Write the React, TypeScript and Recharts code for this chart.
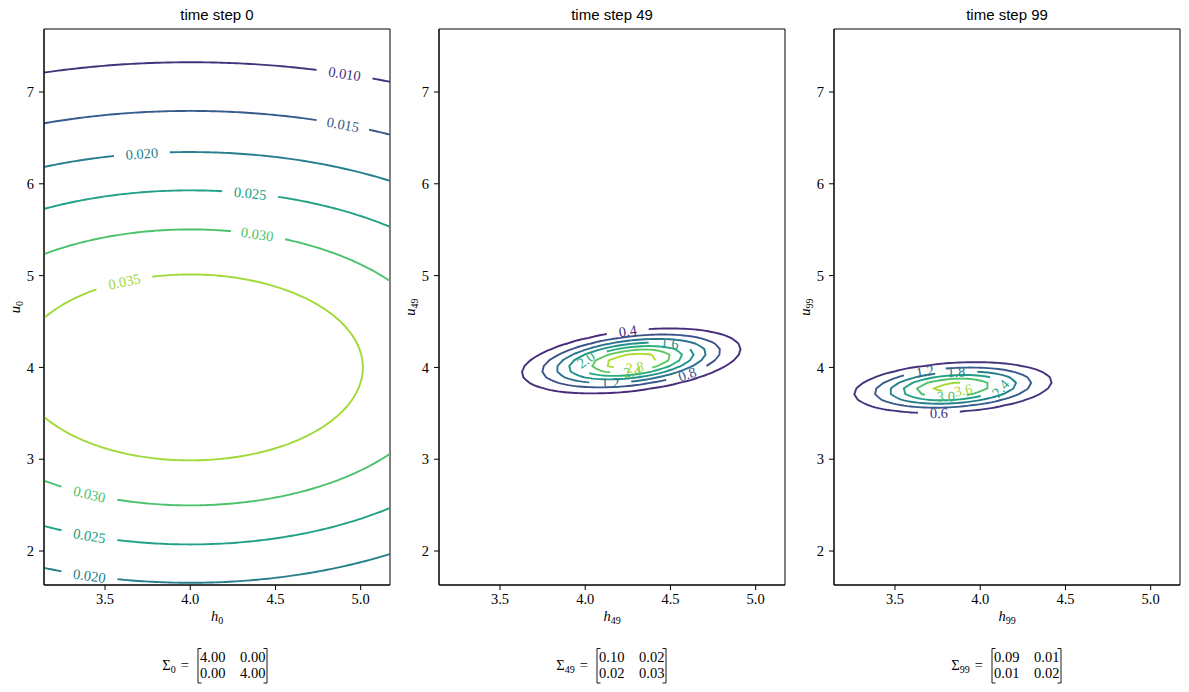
import { LineChart, Line, XAxis, YAxis, ReferenceDot, ReferenceArea } from 'recharts';

const X_DOMAIN: [number, number] = [3.142, 5.172];
const Y_DOMAIN: [number, number] = [1.63, 7.686];
const X_TICKS = [3.5, 4.0, 4.5, 5.0];
const Y_TICKS = [2, 3, 4, 5, 6, 7];

const STEPS = [0, 49, 99];
const MEANS = [
  [4.0, 4.0],
  [4.27, 4.07],
  [3.84, 3.78],
];
const COVS = [
  [[4.0, 0.0], [0.0, 4.0]],
  [[0.10, 0.02], [0.02, 0.03]],
  [[0.09, 0.01], [0.01, 0.02]],
];
const LEVELS = [
  [0.010, 0.015, 0.020, 0.025, 0.030, 0.035],
  [0.4, 0.8, 1.2, 1.6, 2.0, 2.4, 2.8],
  [0.6, 1.2, 1.8, 2.4, 3.0, 3.6],
];
// colour normalisation of each level set (outer levels have no contour)
const LEVEL_BOUNDS = [
  [0.005, 0.040],
  [0.0, 3.2],
  [0.0, 4.2],
];
const LEVEL_DECIMALS = [3, 1, 1];
// inline labels: [level, x, y] near where each one sits
const LABELS = [
  [
    [0.010, 4.90, 7.21], [0.015, 4.90, 6.64], [0.020, 3.715, 6.34], [0.025, 4.35, 5.91],
    [0.030, 4.39, 5.47], [0.035, 3.61, 4.95], [0.030, 3.41, 2.64], [0.025, 3.41, 2.18],
    [0.020, 3.41, 1.75],
  ],
  [
    [0.4, 4.244, 4.417], [0.8, 4.613, 3.873], [1.2, 4.15, 3.84], [1.6, 4.49, 4.254],
    [2.0, 3.99, 4.15], [2.4, 4.279, 3.96], [2.8, 4.279, 4.069],
  ],
  [
    [0.6, 3.756, 3.546], [1.2, 3.68, 3.96], [1.8, 3.868, 3.949], [2.4, 4.114, 3.774],
    [3.0, 3.792, 3.698], [3.6, 3.915, 3.72],
  ],
];

const SERIF = '"Liberation Serif", "DejaVu Serif", serif';
const SANS = '"Liberation Sans", Arial, sans-serif';
const FONT = 14.5;
const SUB_FONT = 10;

const FIG_W = 1189;
const FIG_H = 692;
const PLOT_LEFT = [44, 439, 834];
const PLOT_TOP = 29;
const PLOT_W = 346;
const PLOT_H = 556;
const Y_AXIS_W = 44;
const GRID_N = 100;

const VIRIDIS = [
  '#440154', '#482475', '#414487', '#355f8d', '#2a788e', '#21918c',
  '#22a884', '#44bf70', '#7ad151', '#bddf26', '#fde725',
];

function viridis(t: number) {
  const s = Math.min(Math.max(t, 0), 1) * 10;
  const i = Math.min(Math.floor(s), 9);
  const f = s - i;
  const a = VIRIDIS[i];
  const b = VIRIDIS[i + 1];
  const ch = (h: string, o: number) => parseInt(h.slice(o, o + 2), 16);
  const c = [1, 3, 5].map((o) => Math.round(ch(a, o) + (ch(b, o) - ch(a, o)) * f));
  return `rgb(${c[0]},${c[1]},${c[2]})`;
}

type P = { x: number; y: number };
type Pt = { x: number; y: number | null };

function pdf(mean: number[], cov: number[][], x: number, y: number) {
  const a = cov[0][0];
  const b = cov[0][1];
  const d = cov[1][1];
  const det = a * d - b * b;
  const dx = x - mean[0];
  const dy = y - mean[1];
  const q = (d * dx * dx - 2 * b * dx * dy + a * dy * dy) / det;
  return Math.exp(-q / 2) / (2 * Math.PI * Math.sqrt(det));
}

function linspace(a: number, b: number, n: number) {
  return Array.from({ length: n }, (_, i) => a + ((b - a) * i) / (n - 1));
}

// marching squares on the density grid, joined into polylines
function traceLevel(xs: number[], ys: number[], z: number[][], level: number): P[][] {
  const pos = new Map<string, P>();
  const adj = new Map<string, string[]>();
  const link = (p: string, q: string) => {
    if (!adj.has(p)) adj.set(p, []);
    if (!adj.has(q)) adj.set(q, []);
    adj.get(p)!.push(q);
    adj.get(q)!.push(p);
  };
  const crossH = (i: number, j: number) => {
    const id = `h${i},${j}`;
    if (!pos.has(id)) {
      const t = (level - z[j][i]) / (z[j][i + 1] - z[j][i]);
      pos.set(id, { x: xs[i] + t * (xs[i + 1] - xs[i]), y: ys[j] });
    }
    return id;
  };
  const crossV = (i: number, j: number) => {
    const id = `v${i},${j}`;
    if (!pos.has(id)) {
      const t = (level - z[j][i]) / (z[j + 1][i] - z[j][i]);
      pos.set(id, { x: xs[i], y: ys[j] + t * (ys[j + 1] - ys[j]) });
    }
    return id;
  };
  for (let j = 0; j < ys.length - 1; j++) {
    for (let i = 0; i < xs.length - 1; i++) {
      const v00 = z[j][i] > level;
      const v10 = z[j][i + 1] > level;
      const v11 = z[j + 1][i + 1] > level;
      const v01 = z[j + 1][i] > level;
      const e: string[] = [];
      if (v00 !== v10) e.push(crossH(i, j));
      if (v10 !== v11) e.push(crossV(i + 1, j));
      if (v01 !== v11) e.push(crossH(i, j + 1));
      if (v00 !== v01) e.push(crossV(i, j));
      if (e.length === 2) link(e[0], e[1]);
      else if (e.length === 4) {
        link(e[0], e[1]);
        link(e[2], e[3]);
      }
    }
  }
  const seen = new Set<string>();
  const walk = (start: string) => {
    const path = [start];
    seen.add(start);
    let cur = start;
    for (;;) {
      const next = (adj.get(cur) || []).find((n) => !seen.has(n));
      if (!next) break;
      seen.add(next);
      path.push(next);
      cur = next;
    }
    if (path.length > 2 && (adj.get(cur) || []).includes(start)) path.push(start);
    return path.map((id) => pos.get(id)!);
  };
  const lines: P[][] = [];
  for (const [id, nb] of adj) if (nb.length === 1 && !seen.has(id)) lines.push(walk(id));
  for (const id of adj.keys()) if (!seen.has(id)) lines.push(walk(id));
  return lines;
}

const toPx = (p: P) => [
  ((p.x - X_DOMAIN[0]) / (X_DOMAIN[1] - X_DOMAIN[0])) * PLOT_W,
  ((Y_DOMAIN[1] - p.y) / (Y_DOMAIN[1] - Y_DOMAIN[0])) * PLOT_H,
];

const textWidth = (s: string) =>
  s.split('').reduce((w, c) => w + (c === '.' ? 0.25 : 0.5) * FONT, 0);

type Label = { x: number; y: number; angle: number; text: string; color: string };

function buildPanel(k: number) {
  const xs = linspace(X_DOMAIN[0], X_DOMAIN[1], GRID_N);
  const ys = linspace(Y_DOMAIN[0], Y_DOMAIN[1], GRID_N);
  const z = ys.map((y) => xs.map((x) => pdf(MEANS[k], COVS[k], x, y)));
  const [lo, hi] = LEVEL_BOUNDS[k];

  const contours = LEVELS[k].map((level) => ({
    level,
    color: viridis((level - lo) / (hi - lo)),
    lines: traceLevel(xs, ys, z, level),
    cut: [] as Set<number>[],
  }));
  contours.forEach((c) => (c.cut = c.lines.map(() => new Set<number>())));

  const labels: Label[] = [];
  for (const [level, ax, ay] of LABELS[k]) {
    const c = contours.find((cc) => Math.abs(cc.level - level) < 1e-9);
    if (!c || c.lines.length === 0) continue;
    const [apx, apy] = toPx({ x: ax, y: ay });
    let best = { li: 0, vi: 0, d: Infinity };
    c.lines.forEach((line, li) =>
      line.forEach((p, vi) => {
        const [px, py] = toPx(p);
        const d = Math.hypot(px - apx, py - apy);
        if (d < best.d) best = { li, vi, d };
      }),
    );
    const line = c.lines[best.li];
    const closed = line.length > 2 && line[0] === line[line.length - 1];
    const n = closed ? line.length - 1 : line.length;
    const at = (i: number) => line[closed ? ((i % n) + n) % n : Math.min(Math.max(i, 0), n - 1)];
    const [p0x, p0y] = toPx(at(best.vi - 2));
    const [p1x, p1y] = toPx(at(best.vi + 2));
    let angle = (Math.atan2(p1y - p0y, p1x - p0x) * 180) / Math.PI;
    if (angle > 90) angle -= 180;
    if (angle < -90) angle += 180;
    const text = level.toFixed(LEVEL_DECIMALS[k]);
    const half = textWidth(text) / 2 + 10;

    const cut = c.cut[best.li];
    cut.add(best.vi % n);
    for (const dir of [1, -1]) {
      let len = 0;
      let i = best.vi;
      for (let s = 0; s < n; s++) {
        const ni = i + dir;
        if (!closed && (ni < 0 || ni >= n)) break;
        const [ax1, ay1] = toPx(at(i));
        const [bx1, by1] = toPx(at(ni));
        len += Math.hypot(bx1 - ax1, by1 - ay1);
        if (len > half) break;
        cut.add(((ni % n) + n) % n);
        i = ni;
      }
    }
    const centre = line[best.vi];
    labels.push({ x: centre.x, y: centre.y, angle, text, color: c.color });
  }

  const series = contours.map((c) => {
    const data: Pt[] = [];
    c.lines.forEach((line, li) => {
      const closed = line.length > 2 && line[0] === line[line.length - 1];
      const n = closed ? line.length - 1 : line.length;
      line.forEach((p, vi) => {
        const idx = closed ? vi % n : vi;
        data.push({ x: p.x, y: c.cut[li].has(idx) ? null : p.y });
      });
      data.push({ x: line[line.length - 1].x, y: null });
    });
    return { level: c.level, color: c.color, data };
  });
  return { series, labels };
}

const PANELS = STEPS.map((_, k) => buildPanel(k));

function ContourPanel({ k }: { k: number }) {
  const { series, labels } = PANELS[k];
  const tick = { fontSize: FONT, fill: '#000', fontFamily: SERIF };
  return (
    <div style={{ position: 'absolute', left: PLOT_LEFT[k] - Y_AXIS_W, top: 0 }}>
      <LineChart
        width={Y_AXIS_W + PLOT_W + 4}
        height={FIG_H}
        margin={{ top: PLOT_TOP, right: 4, bottom: 0, left: 0 }}
      >
        <XAxis
          type="number"
          dataKey="x"
          domain={X_DOMAIN}
          ticks={X_TICKS}
          allowDataOverflow
          tickFormatter={(v: number) => v.toFixed(1)}
          tick={tick}
          tickSize={5}
          tickMargin={4}
          height={FIG_H - PLOT_TOP - PLOT_H}
          axisLine={{ stroke: '#000' }}
          tickLine={{ stroke: '#000' }}
        />
        <YAxis
          type="number"
          domain={Y_DOMAIN}
          ticks={Y_TICKS}
          allowDataOverflow
          tick={tick}
          tickSize={5}
          tickMargin={5}
          width={Y_AXIS_W}
          axisLine={{ stroke: '#000' }}
          tickLine={{ stroke: '#000' }}
        />
        {series.map((s) => (
          <Line
            key={s.level}
            data={s.data}
            dataKey="y"
            type="linear"
            stroke={s.color}
            strokeWidth={1.9}
            dot={false}
            activeDot={false}
            connectNulls={false}
            isAnimationActive={false}
          />
        ))}
        {labels.map((l, i) => (
          <ReferenceDot
            key={i}
            x={l.x}
            y={l.y}
            r={0}
            shape={(p: any) => (
              <text
                x={p.cx}
                y={p.cy}
                fill={l.color}
                fontFamily={SERIF}
                fontSize={FONT}
                textAnchor="middle"
                dominantBaseline="central"
                transform={`rotate(${l.angle} ${p.cx} ${p.cy})`}
              >
                {l.text}
              </text>
            )}
          />
        ))}
        <ReferenceArea
          x1={X_DOMAIN[0]}
          x2={X_DOMAIN[1]}
          y1={Y_DOMAIN[0]}
          y2={Y_DOMAIN[1]}
          fill="none"
          fillOpacity={0}
          stroke="#000"
          strokeWidth={1}
        />
      </LineChart>
    </div>
  );
}

const fmt = (v: number) => v.toFixed(2);

function Annotations() {
  return (
    <svg
      width={FIG_W}
      height={FIG_H}
      style={{ position: 'absolute', left: 0, top: 0, pointerEvents: 'none' }}
    >
      {STEPS.map((step, k) => {
        const cx = PLOT_LEFT[k] + PLOT_W / 2;
        const cy = PLOT_TOP + PLOT_H / 2;
        const sub = String(step);
        // left bracket of the covariance matrix
        const B = cx - 19 + 4 * (sub.length - 1);
        const matW = 69;
        const cov = COVS[k];
        const yl = PLOT_LEFT[k] - 24;
        return (
          <g key={step}>
            <text x={cx} y={20} textAnchor="middle" fontFamily={SANS} fontSize={15} fill="#000">
              time step {step}
            </text>
            <text x={cx} y={621} textAnchor="middle" fontFamily={SERIF} fontSize={FONT} fill="#000">
              <tspan fontStyle="italic">h</tspan>
              <tspan fontSize={SUB_FONT} dy={3}>{sub}</tspan>
            </text>
            <text
              x={yl}
              y={cy}
              textAnchor="middle"
              fontFamily={SERIF}
              fontSize={FONT}
              fill="#000"
              transform={`rotate(-90 ${yl} ${cy})`}
            >
              <tspan fontStyle="italic">u</tspan>
              <tspan fontSize={SUB_FONT} dy={3}>{sub}</tspan>
            </text>
            <text x={B - 9} y={670} textAnchor="end" fontFamily={SERIF} fontSize={FONT} fill="#000">
              Σ<tspan fontSize={SUB_FONT} dy={3}>{sub}</tspan>
              <tspan dy={-3} dx={5}>=</tspan>
            </text>
            <path
              d={`M${B + 3.5},648.5 H${B} V683 H${B + 3.5}`}
              fill="none"
              stroke="#000"
              strokeWidth={0.9}
            />
            <path
              d={`M${B + matW - 3.5},648.5 H${B + matW} V683 H${B + matW - 3.5}`}
              fill="none"
              stroke="#000"
              strokeWidth={0.9}
            />
            {[0, 1].map((r) => (
              <g key={r}>
                <text x={B + 2} y={662 + r * 16} fontFamily={SERIF} fontSize={FONT} fill="#000">
                  {fmt(cov[r][0])}
                </text>
                <text x={B + 42} y={662 + r * 16} fontFamily={SERIF} fontSize={FONT} fill="#000">
                  {fmt(cov[r][1])}
                </text>
              </g>
            ))}
          </g>
        );
      })}
    </svg>
  );
}

export default function App() {
  return (
    <div style={{ position: 'absolute', left: 0, top: 0, width: FIG_W, height: FIG_H, background: '#fff' }}>
      {STEPS.map((_, k) => (
        <ContourPanel key={k} k={k} />
      ))}
      <Annotations />
    </div>
  );
}
